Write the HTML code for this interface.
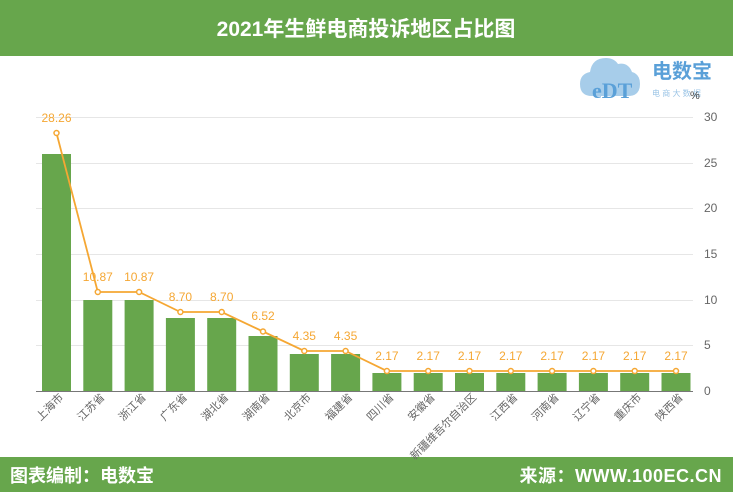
<!DOCTYPE html>
<html><head><meta charset="utf-8"><style>
html,body{margin:0;padding:0;background:#fff;}
svg{display:block;font-family:"Liberation Sans","Noto Sans CJK SC",sans-serif;}
</style></head><body>
<svg width="733" height="492" viewBox="0 0 733 492" xmlns="http://www.w3.org/2000/svg">
<rect x="0" y="0" width="733" height="56" fill="#67a64c"/>
<text x="366" y="36" text-anchor="middle" fill="#fff" font-size="21" font-weight="bold">2021年生鲜电商投诉地区占比图</text>
<rect x="0" y="457" width="733" height="35" fill="#67a64c"/>
<text x="10" y="482" fill="#fff" font-size="18" font-weight="bold">图表编制：电数宝</text>
<text x="722" y="482" text-anchor="end" fill="#fff" font-size="18" font-weight="bold" letter-spacing="0.5">来源：WWW.100EC.CN</text>
<!-- logo -->
<g>
<path d="M592 96 q-12 0 -12 -12 q0 -10 10 -12 q2 -14 16 -14 q8 0 12 6 q10 -2 14 8 q8 2 8 12 q0 12 -12 12 z" fill="#a7cdea"/>
<text x="592" y="98" fill="#5aa0d8" font-size="22" font-family="Liberation Serif,serif" font-weight="bold">eDT</text>
<text x="652" y="78" fill="#5aa0d8" font-size="20" font-weight="bold">电数宝</text>
<text x="652" y="96" fill="#9cc5e6" font-size="8">电 商 大 数 据</text>
</g>
<text x="690" y="99" fill="#444" font-size="11">%</text>
<!-- grid -->
<g stroke="#e6e6e6" stroke-width="1">
<line x1="36" y1="117.5" x2="693" y2="117.5"/>
<line x1="36" y1="163.5" x2="693" y2="163.5"/>
<line x1="36" y1="208.5" x2="693" y2="208.5"/>
<line x1="36" y1="254.5" x2="693" y2="254.5"/>
<line x1="36" y1="300.5" x2="693" y2="300.5"/>
<line x1="36" y1="345.5" x2="693" y2="345.5"/>
</g>
<g fill="#666" font-size="12">
<text x="704" y="121">30</text><text x="704" y="167">25</text><text x="704" y="212">20</text>
<text x="704" y="258">15</text><text x="704" y="304">10</text><text x="704" y="349">5</text><text x="704" y="395">0</text>
</g>
<g fill="#67a64c">
<rect x="42" y="154" width="29" height="237"/>
<rect x="83.3" y="300" width="29" height="91"/>
<rect x="124.6" y="300" width="29" height="91"/>
<rect x="165.9" y="318" width="29" height="73"/>
<rect x="207.2" y="318" width="29" height="73"/>
<rect x="248.5" y="336" width="29" height="55"/>
<rect x="289.8" y="354" width="29" height="37"/>
<rect x="331.1" y="354" width="29" height="37"/>
<rect x="372.4" y="373" width="29" height="18"/>
<rect x="413.7" y="373" width="29" height="18"/>
<rect x="455" y="373" width="29" height="18"/>
<rect x="496.3" y="373" width="29" height="18"/>
<rect x="537.6" y="373" width="29" height="18"/>
<rect x="578.9" y="373" width="29" height="18"/>
<rect x="620.2" y="373" width="29" height="18"/>
<rect x="661.5" y="373" width="29" height="18"/>
</g>
<line x1="36" y1="391.5" x2="693" y2="391.5" stroke="#777" stroke-width="1"/>
<polyline fill="none" stroke="#f5a733" stroke-width="1.8" points="56.5,133 97.8,292 139.1,292 180.4,312 221.7,312 263,331.5 304.3,351 345.6,351 386.9,371 428.2,371 469.5,371 510.8,371 552.1,371 593.4,371 634.7,371 676,371"/>
<g fill="#fff" stroke="#f5a733" stroke-width="1.5">
<circle cx="56.5" cy="133" r="2.5"/><circle cx="97.8" cy="292" r="2.5"/><circle cx="139.1" cy="292" r="2.5"/>
<circle cx="180.4" cy="312" r="2.5"/><circle cx="221.7" cy="312" r="2.5"/><circle cx="263" cy="331.5" r="2.5"/>
<circle cx="304.3" cy="351" r="2.5"/><circle cx="345.6" cy="351" r="2.5"/><circle cx="386.9" cy="371" r="2.5"/>
<circle cx="428.2" cy="371" r="2.5"/><circle cx="469.5" cy="371" r="2.5"/><circle cx="510.8" cy="371" r="2.5"/>
<circle cx="552.1" cy="371" r="2.5"/><circle cx="593.4" cy="371" r="2.5"/><circle cx="634.7" cy="371" r="2.5"/>
<circle cx="676" cy="371" r="2.5"/>
</g>
<g fill="#f5a733" font-size="12" text-anchor="middle">
<text x="56.5" y="122">28.26</text><text x="97.8" y="281">10.87</text><text x="139.1" y="281">10.87</text>
<text x="180.4" y="301">8.70</text><text x="221.7" y="301">8.70</text><text x="263" y="320">6.52</text>
<text x="304.3" y="340">4.35</text><text x="345.6" y="340">4.35</text><text x="386.9" y="360">2.17</text>
<text x="428.2" y="360">2.17</text><text x="469.5" y="360">2.17</text><text x="510.8" y="360">2.17</text>
<text x="552.1" y="360">2.17</text><text x="593.4" y="360">2.17</text><text x="634.7" y="360">2.17</text>
<text x="676" y="360">2.17</text>
</g>
<g fill="#666" font-size="11" text-anchor="end">
<text transform="translate(64,398) rotate(-45)">上海市</text>
<text transform="translate(105.3,398) rotate(-45)">江苏省</text>
<text transform="translate(146.6,398) rotate(-45)">浙江省</text>
<text transform="translate(187.9,398) rotate(-45)">广东省</text>
<text transform="translate(229.2,398) rotate(-45)">湖北省</text>
<text transform="translate(270.5,398) rotate(-45)">湖南省</text>
<text transform="translate(311.8,398) rotate(-45)">北京市</text>
<text transform="translate(353.1,398) rotate(-45)">福建省</text>
<text transform="translate(394.4,398) rotate(-45)">四川省</text>
<text transform="translate(435.7,398) rotate(-45)">安徽省</text>
<text transform="translate(477,398) rotate(-45)">新疆维吾尔自治区</text>
<text transform="translate(518.3,398) rotate(-45)">江西省</text>
<text transform="translate(559.6,398) rotate(-45)">河南省</text>
<text transform="translate(600.9,398) rotate(-45)">辽宁省</text>
<text transform="translate(642.2,398) rotate(-45)">重庆市</text>
<text transform="translate(683.5,398) rotate(-45)">陕西省</text>
</g>
</svg>
</body></html>
